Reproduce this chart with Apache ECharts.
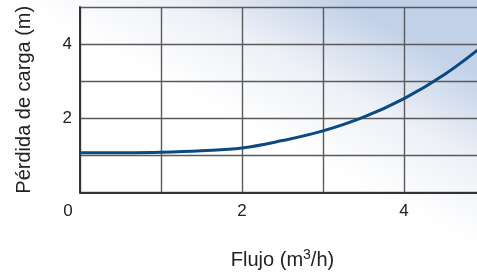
<!DOCTYPE html>
<html>
<head>
<meta charset="utf-8">
<script src="https://cdn.jsdelivr.net/npm/echarts@6/dist/echarts.min.js"></script>
<style>
  html, body { margin: 0; padding: 0; overflow: hidden; }
  /* el gráfico sigue más allá del borde derecho, como en el original */
  #chart_main { width: 488px; height: 275px; }
</style>
</head>
<body>
<div id="chart_main"></div>
<script>
// caudal (m3/h) y pérdida de carga (m)
var flujo = [0, 0.5, 1, 1.5, 2, 2.5, 3, 3.5, 4, 4.5, 5];
var perdida = [1.07, 1.072, 1.085, 1.125, 1.20, 1.40, 1.66, 2.03, 2.53, 3.18, 4.0];
var xLabels = [0, 2, 4];
var yLabels = [2, 4];

var myChart = echarts.init(document.getElementById('chart_main'));
var option = {
    animation: false,
    backgroundColor: new echarts.graphic.LinearGradient(0.55, 0.5, 0.7, 0, [
        {offset: 0, color: '#ffffff'},
        {offset: 0.5, color: '#edf0f6'},
        {offset: 1, color: '#c2d1e8'}
    ]),
    grid: {left: 80, right: 0, top: 7, bottom: 82.5},
    xAxis: {
        type: 'value',
        min: 0, max: 5, interval: 1,
        name: 'Flujo (m{s|3}/h)',
        nameLocation: 'middle',
        nameGap: 56,
        nameTextStyle: {
            fontSize: 20, color: '#222', fontFamily: 'Liberation Sans',
            rich: {s: {fontSize: 14, color: '#222', fontFamily: 'Liberation Sans', padding: [0, 0, 9, 0]}}
        },
        axisLine: {lineStyle: {color: '#333', width: 2}},
        axisTick: {show: false},
        splitLine: {show: true, lineStyle: {color: '#5a5a5a', width: 1.4}},
        axisLabel: {
            margin: 10,
            fontSize: 17,
            color: '#222',
            fontFamily: 'Liberation Sans',
            formatter: function (v) {
                if (v === 0) return '{z|0}';
                return xLabels.indexOf(v) >= 0 ? String(v) : '';
            },
            rich: {z: {fontSize: 17, color: '#222', fontFamily: 'Liberation Sans', padding: [0, 24, 0, 0]}}
        }
    },
    yAxis: {
        type: 'value',
        min: 0, max: 5, interval: 1,
        name: 'Pérdida de carga (m)',
        nameLocation: 'middle',
        nameGap: 46,
        nameTextStyle: {fontSize: 20, color: '#222', fontFamily: 'Liberation Sans'},
        axisLine: {show: true, lineStyle: {color: '#333', width: 2}},
        axisTick: {show: false},
        splitLine: {show: true, lineStyle: {color: '#5a5a5a', width: 1.4}},
        axisLabel: {
            margin: 8,
            fontSize: 17,
            color: '#222',
            fontFamily: 'Liberation Sans',
            formatter: function (v) { return yLabels.indexOf(v) >= 0 ? String(v) : ''; }
        }
    },
    series: [{
        type: 'line',
        data: flujo.map(function (x, i) { return [x, perdida[i]]; }),
        smooth: 0.4,
        showSymbol: false,
        lineStyle: {color: '#0b4a80', width: 3}
    }]
};
myChart.setOption(option);
</script>
</body>
</html>
